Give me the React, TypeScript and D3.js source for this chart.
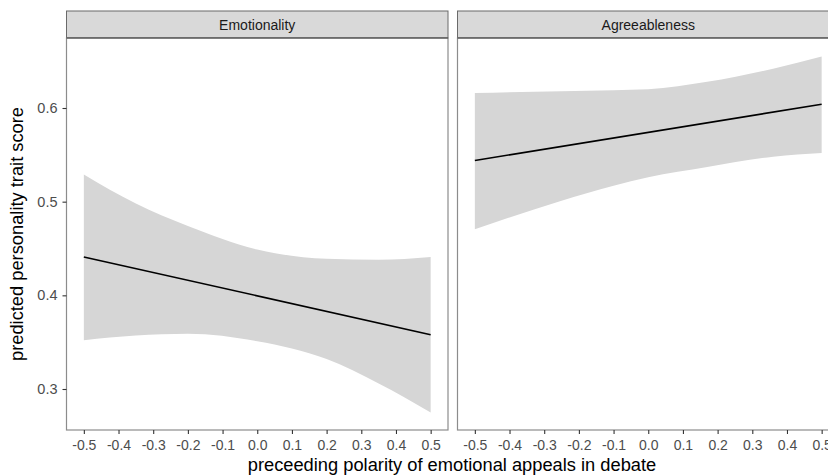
import React, { useEffect, useRef } from "react";
import * as d3 from "d3";

// facet labels
const facets = ["Emotionality", "Agreeableness"];

// ribbon samples (x, upper, lower)
const emoX = [-0.5, -0.35, -0.2, 0, 0.2, 0.35, 0.5];
const emoUpper = [0.529, 0.498, 0.474, 0.449, 0.439, 0.438, 0.441];
const emoLower = [0.352, 0.357, 0.359, 0.351, 0.332, 0.306, 0.275];
const emoFit = [0.441, 0.358]; // at x = -0.5 and 0.5

const agrX = [-0.5, -0.25, -0.1, 0, 0.17, 0.36, 0.5];
const agrUpper = [0.616, 0.618, 0.619, 0.62, 0.628, 0.642, 0.655];
const agrLower = [0.4705, 0.501, 0.517, 0.526, 0.537, 0.548, 0.552];
const agrFit = [0.544, 0.604];

const xTicks = [-0.5, -0.4, -0.3, -0.2, -0.1, 0, 0.1, 0.2, 0.3, 0.4, 0.5];
const yTicks = [0.3, 0.4, 0.5, 0.6];

const FONT = "'Liberation Sans', Arial, sans-serif";

export default function App() {
  const svgRef = useRef<SVGSVGElement>(null);

  useEffect(() => {
    const width = 828;
    const height = 475;
    const svg = d3.select(svgRef.current).attr("width", width).attr("height", height);
    svg.selectAll("*").remove();

    const panelTop = 38;
    const panelBottom = 430;
    const stripTop = 11;

    const y = d3.scaleLinear().domain([0.3, 0.6]).range([389, 108]);

    const panels = [
      { name: facets[0], x0: 66.5, x1: 448, xs: emoX, up: emoUpper, lo: emoLower, fit: emoFit },
      { name: facets[1], x0: 457.5, x1: 839, xs: agrX, up: agrUpper, lo: agrLower, fit: agrFit },
    ];

    panels.forEach((p) => {
      const x = d3.scaleLinear().domain([-0.55, 0.55]).range([p.x0, p.x1]);
      const g = svg.append("g");

      // strip
      g.append("rect")
        .attr("x", p.x0).attr("y", stripTop)
        .attr("width", p.x1 - p.x0).attr("height", panelTop - stripTop)
        .attr("fill", "#d9d9d9").attr("stroke", "#6a6a6a").attr("stroke-width", 1);
      g.append("text")
        .attr("x", (p.x0 + p.x1) / 2).attr("y", (stripTop + panelTop) / 2 + 5)
        .attr("text-anchor", "middle")
        .attr("font-family", FONT).attr("font-size", 14).attr("fill", "#1a1a1a")
        .text(p.name);

      // panel background
      g.append("rect")
        .attr("x", p.x0).attr("y", panelTop)
        .attr("width", p.x1 - p.x0).attr("height", panelBottom - panelTop)
        .attr("fill", "#fff");

      // ribbon
      const rows = p.xs.map((v, i) => ({ x: v, up: p.up[i], lo: p.lo[i] }));
      const area = d3.area<{ x: number; up: number; lo: number }>()
        .x((d) => x(d.x))
        .y0((d) => y(d.lo))
        .y1((d) => y(d.up))
        .curve(d3.curveMonotoneX);
      g.append("path").attr("d", area(rows)).attr("fill", "#d6d6d6");

      // fitted line
      const line = d3.line<[number, number]>().x((d) => x(d[0])).y((d) => y(d[1]));
      g.append("path")
        .attr("d", line([[-0.5, p.fit[0]], [0.5, p.fit[1]]]))
        .attr("fill", "none").attr("stroke", "#000").attr("stroke-width", 1.6);

      // panel border
      g.append("rect")
        .attr("x", p.x0).attr("y", panelTop)
        .attr("width", p.x1 - p.x0).attr("height", panelBottom - panelTop)
        .attr("fill", "none").attr("stroke", "#8c8c8c").attr("stroke-width", 1.2);
      g.append("line")
        .attr("x1", p.x0).attr("x2", p.x1).attr("y1", panelTop).attr("y2", panelTop)
        .attr("stroke", "#444").attr("stroke-width", 1.2);

      // x axis
      const ax = g.append("g").attr("transform", `translate(0,${panelBottom})`)
        .call(d3.axisBottom(x).tickValues(xTicks).tickSize(4).tickPadding(6.5)
          .tickFormat((d) => d3.format(".1f")(d as number).replace("−", "-")));
      ax.select(".domain").remove();
      ax.selectAll(".tick line").attr("stroke", "#333").attr("stroke-width", 1.1);
      ax.selectAll(".tick text")
        .attr("font-family", FONT).attr("font-size", 14).attr("fill", "#4d4d4d");
    });

    // y axis on the left panel
    const ay = svg.append("g").attr("transform", `translate(${panels[0].x0},0)`)
      .call(d3.axisLeft(y).tickValues(yTicks).tickSize(4).tickPadding(5).tickFormat(d3.format(".1f")));
    ay.select(".domain").remove();
    ay.selectAll(".tick line").attr("stroke", "#333").attr("stroke-width", 1.1);
    ay.selectAll(".tick text")
      .attr("font-family", FONT).attr("font-size", 14.5).attr("fill", "#4d4d4d");

    // axis titles
    svg.append("text")
      .attr("x", 452).attr("y", 471)
      .attr("text-anchor", "middle")
      .attr("font-family", FONT).attr("font-size", 18.3).attr("fill", "#000")
      .text("preceeding polarity of emotional appeals in debate");
    svg.append("text")
      .attr("transform", `translate(23,${(panelTop + panelBottom) / 2}) rotate(-90)`)
      .attr("text-anchor", "middle")
      .attr("font-family", FONT).attr("font-size", 18.3).attr("fill", "#000")
      .text("predicted personality trait score");
  }, []);

  return <svg ref={svgRef} style={{ position: "absolute", left: 0, top: 0 }} />;
}
